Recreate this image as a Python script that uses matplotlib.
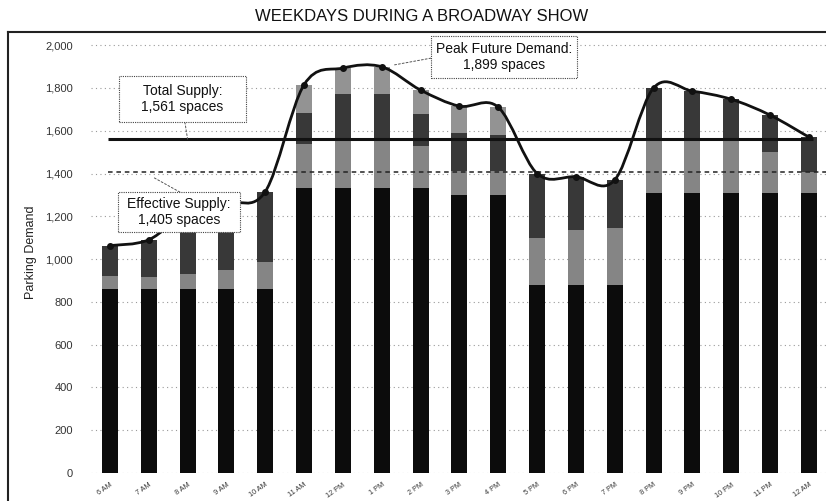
import numpy as np
import matplotlib
matplotlib.use("Agg")
import matplotlib.pyplot as plt
from matplotlib.path import Path
from matplotlib.patches import PathPatch, Rectangle

plt.rcParams['font.family'] = ['Liberation Sans', 'DejaVu Sans']

# Hour labels along the x axis
hours = ['6 AM', '7 AM', '8 AM', '9 AM', '10 AM', '11 AM', '12 PM', '1 PM', '2 PM',
         '3 PM', '4 PM', '5 PM', '6 PM', '7 PM', '8 PM', '9 PM', '10 PM', '11 PM', '12 AM']

# Stacked components of parking demand
base = [860, 860, 860, 860, 860, 1330, 1330, 1330, 1330, 1300, 1300,
        880, 880, 880, 1310, 1310, 1310, 1310, 1310]
mid = [60, 56, 70, 90, 126, 210, 220, 220, 200, 110, 110,
       220, 255, 265, 245, 245, 240, 190, 95]
dark = [143, 174, 290, 315, 329, 145, 220, 220, 150, 180, 170,
        300, 250, 225, 245, 230, 197, 173, 165]
light = [0, 0, 0, 0, 0, 130, 123, 129, 110, 125, 130,
         0, 0, 0, 0, 0, 0, 0, 0]

total_supply = 1561
effective_supply = 1405
peak_demand = 1899

x = np.arange(len(hours))
b = np.array(base)
m = np.array(mid)
d = np.array(dark)
l = np.array(light)
tops = b + m + d + l

fig = plt.figure(figsize=(8.26, 5.01), dpi=100)
ax = fig.add_axes([0.110, 0.0559, 0.890, 0.880])
ax.set_xlim(-0.49, 18.44)
ax.set_ylim(0, 2061)


def px(xp, yp):
    # pixel position in the 826x501 picture -> data coords
    return (xp - 110) / 38.83, (473 - yp) / 0.214


# grid behind bars
ax.set_axisbelow(True)
ax.yaxis.grid(True, color='#9a9a9a', linestyle=(0, (1, 3)), linewidth=0.8)

w = 0.41
ax.bar(x, b, w, color='#0c0c0c')
ax.bar(x, m, w, bottom=b, color='#858585')
ax.bar(x, d, w, bottom=b + m, color='#383838')
ax.bar(x, l, w, bottom=b + m + d, color='#939393')

# supply lines
ax.hlines(total_supply, -0.05, len(hours) - 0.9, color='#111111', linewidth=2.2, zorder=4)
ax.hlines(effective_supply, -0.05, len(hours), color='#222222', linewidth=1.1,
          linestyles=(0, (3, 2.5)), zorder=4)

# smoothed demand line (cubic bezier through bar tops)
pts = np.column_stack([x, tops]).astype(float)
padded = np.vstack([pts[0], pts, pts[-1]])
verts = [pts[0]]
codes = [Path.MOVETO]
for i in range(len(pts) - 1):
    p0, p1, p2, p3 = padded[i], padded[i + 1], padded[i + 2], padded[i + 3]
    verts += [p1 + (p2 - p0) / 6, p2 - (p3 - p1) / 6, p2]
    codes += [Path.CURVE4] * 3
ax.add_patch(PathPatch(Path(verts, codes), facecolor='none', edgecolor='#111111',
                       linewidth=2.0, zorder=5))
ax.plot(x, tops, 'o', color='#111111', markersize=4, zorder=6)

ax.set_yticks(range(0, 2001, 200))
ax.set_yticklabels([f'{v:,}' for v in range(0, 2001, 200)], fontsize=8, color='#333333')
ax.set_xticks(x)
ax.set_xticklabels(hours, fontsize=5.2, rotation=35, ha='right', rotation_mode='anchor',
                   color='#333333')
ax.tick_params(axis='both', length=0)
ax.tick_params(axis='y', pad=13)
ax.tick_params(axis='x', pad=6)
for s in ax.spines.values():
    s.set_visible(False)
ax.set_ylabel('Parking Demand', fontsize=9, color='#222222', labelpad=6)

lead = dict(arrowstyle='-', color='#555555', linestyle=(0, (2, 2)), linewidth=0.7,
            shrinkA=0, shrinkB=0)


def callout(text, left, top, right, bottom, target, start):
    x0, y0 = px(left, bottom)
    x1, y1 = px(right, top)
    ax.annotate('', xy=target, xytext=px(*start), arrowprops=lead, zorder=6.5,
                annotation_clip=False)
    ax.add_patch(Rectangle((x0, y0), x1 - x0, y1 - y0, facecolor='white',
                           edgecolor='#444444', linestyle=(0, (1, 1)), linewidth=0.8,
                           zorder=7, clip_on=False))
    ax.text((x0 + x1) / 2, (y0 + y1) / 2, text, ha='center', va='center',
            fontsize=10, color='#111111', zorder=8, linespacing=1.15)


callout(f'Total Supply:\n{total_supply:,} spaces', 119, 76, 246, 122,
        (2.0, total_supply), (185, 122))
callout(f'Effective Supply:\n{effective_supply:,} spaces', 118, 192, 240, 232,
        px(153, 177), (180, 192))
callout(f'Peak Future Demand:\n{peak_demand:,} spaces', 431, 36, 577, 78,
        px(393, 65), (431, 58))

# outer frame (left and top edges)
fig.add_artist(plt.Line2D([8 / 826, 1], [1 - 32 / 501] * 2, color='#222222', linewidth=1.5))
fig.add_artist(plt.Line2D([8 / 826] * 2, [0, 1 - 32 / 501], color='#222222', linewidth=1.5))

fig.text(0.51, 0.968, 'WEEKDAYS DURING A BROADWAY SHOW', ha='center', va='center',
         fontsize=12, color='#111111')

fig.savefig('out.png', dpi=100)
